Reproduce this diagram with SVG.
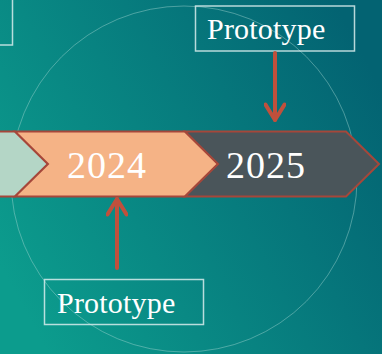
<svg xmlns="http://www.w3.org/2000/svg" width="382" height="354" viewBox="0 0 382 354">
  <defs>
    <linearGradient id="bg" x1="0" y1="0.75" x2="1" y2="0.25">
      <stop offset="0" stop-color="#0c9c8d"/>
      <stop offset="1" stop-color="#036372"/>
    </linearGradient>
    <marker id="head" viewBox="0 0 22 22" refX="18" refY="11" markerWidth="22" markerHeight="22" markerUnits="userSpaceOnUse" orient="auto">
      <path d="M2.5,1.5 L18,11 L2.5,20.5" fill="none" stroke="#c0503c" stroke-width="4" stroke-linecap="round" stroke-linejoin="round"/>
    </marker>
    <style>
      .box { fill: none; stroke: #d8ecec; stroke-opacity: 0.85; stroke-width: 1.5; }
      .lbl { font-family: "Liberation Serif", "DejaVu Serif", serif; font-size: 30px; fill: #ffffff; letter-spacing: 0.2px; }
      .yr { font-family: "Liberation Serif", "DejaVu Serif", serif; font-size: 38px; fill: #ffffff; text-anchor: middle; letter-spacing: 1px; }
      .chev { stroke: #a6473a; stroke-width: 2; stroke-linejoin: miter; }
      .conn { stroke: #c0503c; stroke-width: 4; stroke-linecap: round; fill: none; }
    </style>
  </defs>
  <rect x="0" y="0" width="382" height="354" fill="url(#bg)"/>
  <circle cx="184" cy="179" r="173" fill="none" stroke="#a8d8d4" stroke-opacity="0.55" stroke-width="0.8"/>

  <g id="chevron-prev">
    <polygon class="chev" points="-5,131.5 15,131.5 48,164 15,196.5 -5,196.5" fill="#b4d6c6"/>
  </g>
  <g id="chevron-2024">
    <polygon class="chev" points="15,131.5 185,131.5 218,164 185,196.5 15,196.5 48,164" fill="#f5b386"/>
    <text class="yr" x="107" y="178">2024</text>
  </g>
  <g id="chevron-2025">
    <polygon class="chev" points="185,131.5 346,131.5 379,164 346,196.5 185,196.5 218,164" fill="#4a555a"/>
    <text class="yr" x="266" y="178">2025</text>
  </g>

  <g id="box-topleft">
    <rect class="box" x="-10" y="-5" width="22.5" height="50"/>
  </g>
  <g id="box-top">
    <rect class="box" x="195.5" y="6" width="159" height="45"/>
    <text class="lbl" x="207" y="39">Prototype</text>
  </g>
  <g id="box-bottom">
    <rect class="box" x="44.5" y="279.5" width="159" height="45"/>
    <text class="lbl" x="57" y="313">Prototype</text>
  </g>

  <g id="connectors">
    <line class="conn" x1="275" y1="53" x2="275" y2="120" marker-end="url(#head)"/>
    <line class="conn" x1="117" y1="268" x2="117" y2="199" marker-end="url(#head)"/>
  </g>
</svg>
